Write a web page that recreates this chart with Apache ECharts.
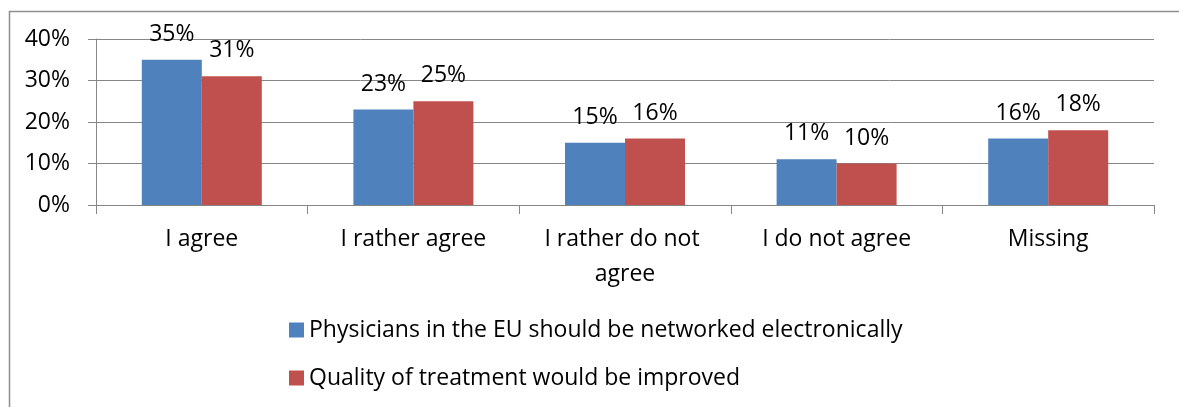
<!DOCTYPE html>
<html>
<head>
<meta charset="utf-8">
<script src="https://cdn.jsdelivr.net/npm/echarts@6/dist/echarts.min.js"></script>
<style>
  html, body { margin: 0; padding: 0; background: #fff; }
  #chart { width: 1179px; height: 407px; }
</style>
</head>
<body>
<div id="chart"></div>
<script>
// Survey answers per response option, in percent
const categories = ['I agree', 'I rather agree', 'I rather do not agree', 'I do not agree', 'Missing'];
const networkedValues = [35, 23, 15, 11, 16];
const qualityValues = [31, 25, 16, 10, 18];
const seriesNames = [
  'Physicians in the EU should be networked electronically',
  'Quality of treatment would be improved'
];
const yTicks = { min: 0, max: 40, interval: 10 };

const FONT = 'Open Sans';
const axisGray = '#868686';

const chart = echarts.init(document.getElementById('chart'), null, { renderer: 'canvas' });

const labelStyle = {
  show: true,
  position: 'top',
  distance: 14,
  color: '#000',
  fontFamily: FONT,
  fontSize: 23,
  formatter: p => p.value + '%'
};

chart.setOption({
  animation: false,
  backgroundColor: '#fff',
  graphic: [{
    type: 'rect',
    left: 7, top: 9,
    shape: { width: 1300, height: 600 },
    style: { fill: 'none', stroke: '#8e8e8e', lineWidth: 1.5 },
    silent: true,
    z: -1
  }],
  grid: { left: 96, right: 25, top: 39, bottom: 202, containLabel: false },
  legend: {
    orient: 'vertical',
    left: 289,
    top: 318,
    padding: 0,
    itemWidth: 15,
    itemHeight: 15,
    itemGap: 24,
    icon: 'rect',
    textStyle: { fontFamily: FONT, fontSize: 23, color: '#000', lineHeight: 24 },
    data: seriesNames
  },
  xAxis: {
    type: 'category',
    data: categories,
    boundaryGap: true,
    axisLine: { lineStyle: { color: axisGray, width: 1 } },
    axisTick: { show: true, length: 9, lineStyle: { color: axisGray } },
    axisLabel: {
      color: '#000',
      fontFamily: FONT,
      fontSize: 23,
      lineHeight: 35,
      margin: 17,
      width: 190,
      overflow: 'break',
      interval: 0
    }
  },
  yAxis: {
    type: 'value',
    min: yTicks.min,
    max: yTicks.max,
    interval: yTicks.interval,
    axisLine: { show: true, lineStyle: { color: axisGray, width: 1 } },
    axisTick: { show: true, length: 8, lineStyle: { color: axisGray } },
    splitLine: { lineStyle: { color: axisGray, width: 1 } },
    axisLabel: {
      color: '#000',
      fontFamily: FONT,
      fontSize: 23,
      margin: 26,
      formatter: '{value}%'
    }
  },
  series: [
    {
      name: seriesNames[0],
      type: 'bar',
      data: networkedValues,
      barWidth: 60,
      barGap: '0%',
      itemStyle: { color: '#4F81BD' },
      label: labelStyle
    },
    {
      name: seriesNames[1],
      type: 'bar',
      data: qualityValues,
      barWidth: 60,
      barGap: '0%',
      itemStyle: { color: '#C0504D' },
      label: labelStyle
    }
  ]
});
</script>
</body>
</html>
